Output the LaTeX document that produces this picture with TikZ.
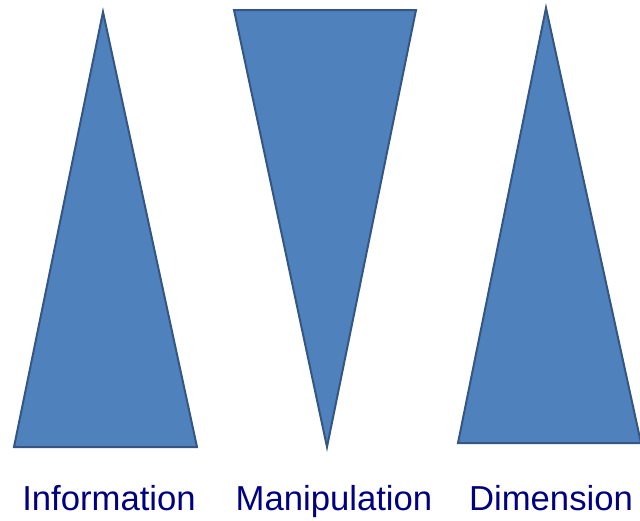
\documentclass[tikz,border=0pt]{standalone}
\usepackage{fontspec}
\setmainfont{Liberation Sans}
\usepackage{xcolor}
\usetikzlibrary{positioning, calc}
\definecolor{triFill}{RGB}{79,129,189}
\definecolor{triEdge}{RGB}{52,86,130}
\definecolor{labelBlue}{RGB}{0,0,128}

\begin{document}
\begin{tikzpicture}[x=0.75pt, y=-0.75pt,
  tri/.style={fill=triFill, draw=triEdge, line width=1.5pt, line join=miter},
  lbl/.style={text=labelBlue, font=\fontsize{26}{28}\selectfont, anchor=base, inner sep=0pt}]
\useasboundingbox (0,0) rectangle (640,521);
% triangles
\coordinate (infoTop) at (103,12);
\coordinate (infoL) at (14,447);
\coordinate (infoR) at (197,447);
\draw[tri] (infoTop) -- (infoR) -- (infoL) -- cycle;
\coordinate (manipL) at (234,10);
\coordinate (manipR) at (416,10);
\coordinate (manipBot) at (327,447);
\draw[tri] (manipL) -- (manipR) -- (manipBot) -- cycle;
\coordinate (dimTop) at (546,8);
\coordinate (dimL) at (458,443);
\coordinate (dimR) at (641,443);
\draw[tri] (dimTop) -- (dimR) -- (dimL) -- cycle;
% labels
\node[lbl] (info) at (109,510) {Information};
\node[lbl] (manip) at (334,510) {Manipulation};
\node[lbl] (dim) at (551,510) {Dimension};
\end{tikzpicture}
\end{document}
